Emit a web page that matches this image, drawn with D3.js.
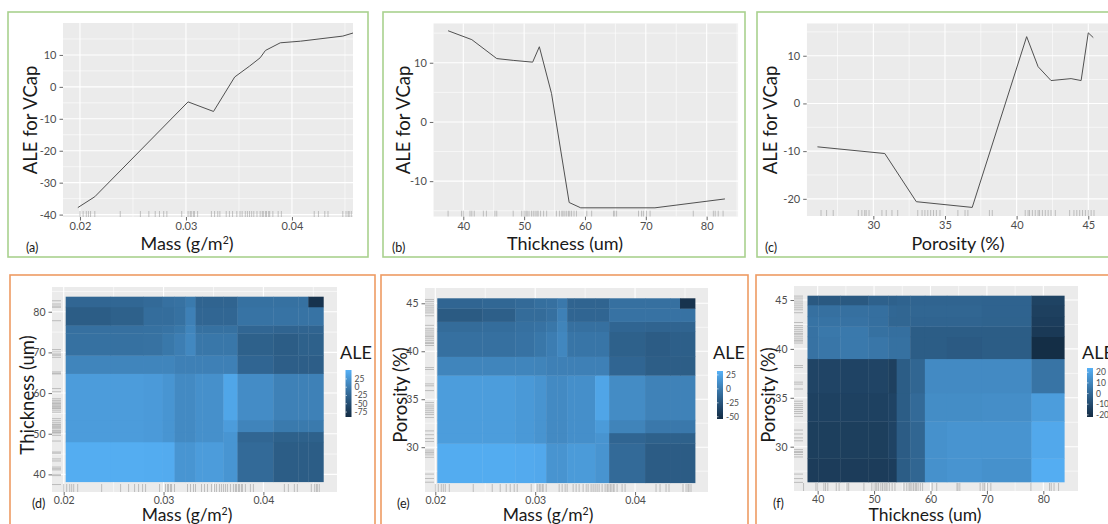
<!DOCTYPE html>
<html>
<head>
<meta charset="utf-8">
<script src="https://cdn.jsdelivr.net/npm/d3@7"></script>
<style>
  body { margin: 0; background: #fff; }
  svg { display: block; }
</style>
</head>
<body>
<svg id="chart" width="1108" height="524"></svg>
<script>
// ---------- 1D ALE curves (top row) ----------
const massA = [0.0198, 0.0214, 0.0302, 0.0326, 0.0346, 0.0360, 0.0370, 0.0375, 0.0389, 0.0408, 0.0448, 0.0458];
const aleA  = [-37.8, -34.4, -4.7, -7.7, 3.1, 6.5, 9.1, 11.4, 13.8, 14.3, 15.9, 16.9];

const thickB = [37.5, 41.4, 45.5, 48.2, 51.4, 52.5, 54.5, 57.4, 59.3, 71.5, 83.0];
const aleB   = [15.4, 13.9, 10.7, 10.4, 10.1, 12.7, 4.8, -13.6, -14.5, -14.5, -13.0];

const poroC = [26.1, 30.8, 33.0, 36.9, 40.7, 41.5, 42.4, 43.8, 44.5, 45.0, 45.35];
const aleC  = [-9.1, -10.5, -20.6, -21.8, 14.0, 7.7, 4.8, 5.2, 4.8, 14.8, 13.8];

// observations drawn as rugs
const massObs = [0.0200, 0.0203, 0.0206, 0.0208, 0.0210, 0.0214, 0.0238, 0.0257, 0.0265, 0.0271, 0.0275,
  0.0279, 0.0282, 0.0296, 0.0302, 0.0304, 0.0305, 0.0307, 0.0308, 0.0311, 0.0324, 0.0327, 0.0330, 0.0332,
  0.0338, 0.0341, 0.0344, 0.0348, 0.0351, 0.0353, 0.0356, 0.0358, 0.0360, 0.0362, 0.0364, 0.0367, 0.0370,
  0.0372, 0.0373, 0.0375, 0.0376, 0.0378, 0.0379, 0.0382, 0.0387, 0.0390, 0.0421, 0.0425, 0.0431, 0.0434,
  0.0448, 0.0451, 0.0453, 0.0454, 0.0456];
const thickObs = [37.5, 39.7, 40.0, 41.1, 41.4, 41.8, 43.3, 43.8, 45.2, 45.5, 48.2, 49.6, 50.0, 50.3, 50.5,
  50.8, 51.2, 51.5, 51.8, 52.1, 52.3, 52.7, 53.2, 53.7, 55.3, 55.8, 56.2, 56.4, 56.7, 57.0, 57.3, 57.5, 57.8,
  58.2, 58.6, 60.3, 61.1, 64.7, 64.9, 65.2, 68.8, 69.3, 69.6, 70.1, 70.7, 77.8, 81.1, 81.4, 81.9, 82.7];
const poroObs = [26.35, 26.74, 27.2, 28.95, 29.2, 29.4, 29.5, 29.7, 30.6, 30.9, 31.3, 31.7, 33.1, 33.4, 33.6,
  33.8, 34.0, 34.2, 34.4, 34.65, 35.9, 36.4, 36.6, 38.1, 38.3, 40.6, 40.8, 40.9, 41.1, 41.3, 41.5, 41.6,
  41.8, 42.0, 42.2, 42.4, 42.7, 43.7, 44.0, 44.2, 44.4, 44.6, 44.8, 45.0, 45.2, 45.4];

// ---------- 2D ALE grids (bottom row), rows listed from the lowest bin upward ----------
const massBreaks = [0.0202, 0.0247, 0.0280, 0.0299, 0.0311, 0.0322, 0.0332, 0.0339, 0.0360, 0.0374, 0.0410, 0.0435, 0.0445, 0.0460];

const thickBreaksD = [38.2, 48.0, 50.5, 53.4, 64.8, 69.3, 74.7, 76.7, 81.2, 83.7];
const aleD = [
  [48, 48, 47, 46, 25, 25, 32, 32, 25, -19, -33, -33, -33],
  [32, 32, 30, 25, 14, 14, 20, 20, 25, -23, -29, -29, -29],
  [32, 32, 30, 25, 14, 14, 20, 20, 32, 8, -3, -3, -3],
  [32, 32, 30, 25, 14, 14, 20, 20, 41, 16, 5, 5, 5],
  [9, 9, 9, 9, 4, 4, 4, 4, 4, -24, -32, -32, -32],
  [-12, -12, -11, -5, 2, 12, -6, -6, -6, -29, -33, -29, -29],
  [-13, -13, -12, -10, -5, 9, -12, -12, -12, -23, -25, -25, -25],
  [-33, -29, -16, -16, -12, 4, -23, -23, -23, -10, -10, -10, -10],
  [-23, -22, -19, -13, -11, -3, -25, -25, -25, -12, -12, -12, -80]
];
const aleDRange = [-90, 52];
const aleDLabels = [25, 0, -25, -50, -75];

const poroBreaksE = [26.3, 30.4, 31.5, 32.85, 37.5, 39.45, 42.05, 43.1, 44.48, 45.52];
const aleE = [
  [29, 29, 28, 27, 15, 15, 19, 19, 15, -11, -20, -20, -20],
  [20, 20, 18, 15, 9, 9, 12, 12, 15, -14, -17, -17, -17],
  [20, 20, 18, 15, 9, 9, 12, 12, 19, 5, -2, -2, -2],
  [20, 20, 18, 15, 9, 9, 12, 12, 25, 10, 4, 4, 4],
  [6, 6, 6, 5, 3, 3, 3, 3, 3, -14, -19, -19, -19],
  [-7, -7, -6, -3, 1, 7, -4, -4, -4, -17, -20, -18, -18],
  [-10, -9, -7, -6, -3, 5, -7, -7, -7, -14, -15, -15, -15],
  [-21, -18, -10, -10, -7, 3, -14, -14, -14, -6, -6, -6, -6],
  [-14, -13, -11, -8, -7, -2, -15, -15, -15, -7, -7, -7, -48]
];
const aleERange = [-54, 32];
const aleELabels = [25, 0, -25, -50];

const thickBreaksF = [38.2, 40.1, 44.0, 49.0, 52.5, 54.0, 56.4, 59.0, 62.9, 69.1, 77.9, 83.7];
const poroBreaksF = [26.4, 28.8, 32.6, 35.5, 39.0, 41.25, 42.3, 43.3, 44.5, 45.44];
const aleF = [
  [-15.3, -15.3, -15.3, -15.3, -15, -3.6, -0.4, 13.9, 14.8, 13.9, 22.9],
  [-14.5, -14.5, -14.5, -14.5, -12.8, -4, -0.4, 13.9, 14.8, 14.8, 21.2],
  [-13.6, -13.6, -13.6, -13.6, -12.8, -3.6, 1, 12.5, 12.5, 13, 17.6],
  [-12.3, -12.3, -12.8, -12.3, -14, -3.6, -0.4, 11.6, 11.6, 11.6, 4.2],
  [3.8, 5.1, 6, 5.1, 3.3, 3.3, -3.6, -3.6, -4.5, -3.6, -21],
  [3.8, 5.6, 6, 3.3, 2.8, 2.8, -3.6, -3.6, -3.6, -3.6, -16.5],
  [4, 4, 3.8, 2.8, -0.4, -0.4, -1, -1, -1, -1.5, -15],
  [3, 3, 3, 2.8, 0, -0.4, -0.4, -0.4, -0.4, -1.3, -14],
  [-5, -5, -5, -2, -2, -1.3, -1, -1, -1, -1.3, -13]
];
const aleFRange = [-22, 24];
const aleFLabels = [20, 10, 0, -10, -20];

// tick values
const massTicks = [0.02, 0.03, 0.04], massMinor = [0.025, 0.035, 0.045];
const thickTicks = [40, 50, 60, 70, 80], thickMinor = [35, 45, 55, 65, 75, 85];
const poroTicks = [30, 35, 40, 45], poroMinor = [27.5, 32.5, 37.5, 42.5];

// ---------- drawing ----------
const svg = d3.select("#chart");
const titleFont = "Lato, 'Open Sans', sans-serif";
const tickFont = "'Liberation Sans Narrow', Lato, sans-serif";
const green = "#A9D18E", orange = "#EE9B63";
const fmt2 = d3.format(".2f");
let clipId = 0;

function frame(x0, y0, x1, y1, color) {
  svg.append("rect")
    .attr("x", x0).attr("y", y0).attr("width", x1 - x0).attr("height", y1 - y0)
    .attr("fill", "none").attr("stroke", color).attr("stroke-width", 1.6);
}

// grey ggplot panel with white major and minor grid lines
function panel(box, x, y, xMajor, xMinor, yMajor, yMinor) {
  const [x0, y0, x1, y1] = box;
  const id = "clip" + (clipId++);
  svg.append("clipPath").attr("id", id)
    .append("rect").attr("x", x0).attr("y", y0).attr("width", x1 - x0).attr("height", y1 - y0);
  const g = svg.append("g").attr("clip-path", `url(#${id})`);
  g.append("rect").attr("x", x0).attr("y", y0).attr("width", x1 - x0).attr("height", y1 - y0).attr("fill", "#EBEBEB");
  const grid = (vals, vertical, w) => g.append("g").selectAll("line").data(vals).join("line")
    .attr("x1", d => vertical ? x(d) : x0).attr("x2", d => vertical ? x(d) : x1)
    .attr("y1", d => vertical ? y0 : y(d)).attr("y2", d => vertical ? y1 : y(d))
    .attr("stroke", "#fff").attr("stroke-width", w);
  grid(xMinor, true, 0.6); grid(yMinor, false, 0.6);
  grid(xMajor, true, 1.1); grid(yMajor, false, 1.1);
  return g;
}

function axes(box, x, y, xTicks, yTicks, xFmt, size, xPad) {
  const [x0, y0, x1, y1] = box;
  const ax = svg.append("g").attr("transform", `translate(0,${y1})`)
    .call(d3.axisBottom(x).tickValues(xTicks).tickSize(3.5).tickPadding(xPad).tickFormat(xFmt));
  const ay = svg.append("g").attr("transform", `translate(${x0},0)`)
    .call(d3.axisLeft(y).tickValues(yTicks).tickSize(3.5).tickPadding(3).tickFormat(d => String(d)));
  [ax, ay].forEach(a => {
    a.select(".domain").remove();
    a.selectAll("line").attr("stroke", "#444").attr("stroke-width", 0.8);
    a.selectAll("text").attr("fill", "#4D4D4D").style("font-family", tickFont).style("font-size", size + "px");
  });
}

function rugBottom(g, box, x, vals, len) {
  g.append("g").selectAll("line").data(vals).join("line")
    .attr("x1", d => x(d)).attr("x2", d => x(d))
    .attr("y1", box[3]).attr("y2", box[3] - len)
    .attr("stroke", "#8a8a8a").attr("stroke-opacity", 0.6).attr("stroke-width", 0.8);
}
function rugLeft(g, box, y, vals, len) {
  g.append("g").selectAll("line").data(vals).join("line")
    .attr("y1", d => y(d)).attr("y2", d => y(d))
    .attr("x1", box[0]).attr("x2", box[0] + len)
    .attr("stroke", "#8a8a8a").attr("stroke-opacity", 0.6).attr("stroke-width", 0.8);
}

function xTitle(cx, yBase, parts, size) {
  const t = svg.append("text").attr("x", cx).attr("y", yBase).attr("text-anchor", "middle")
    .style("font-family", titleFont).style("font-size", size + "px").attr("fill", "#1a1a1a");
  parts.forEach(p => {
    const s = t.append("tspan").text(p.t);
    if (p.sup) s.attr("dy", -6).style("font-size", "10.5px");
    if (p.after) s.attr("dy", 6);
  });
}
function yTitle(cx, cy, label) {
  svg.append("text").attr("transform", `translate(${cx},${cy}) rotate(-90)`)
    .attr("text-anchor", "middle").attr("dominant-baseline", "central")
    .style("font-family", titleFont).style("font-size", "18.5px").attr("fill", "#1a1a1a").text(label);
}
function tag(x, yBase, label) {
  svg.append("text").attr("x", x).attr("y", yBase)
    .style("font-family", titleFont).style("font-size", "12.5px").attr("fill", "#1a1a1a").text(label);
}
const massLabel = [{ t: "Mass (g/m" }, { t: "2", sup: true }, { t: ")", after: true }];

// ---- top row: line charts ----
function linePanel(o) {
  frame(...o.frame, green);
  const x = d3.scaleLinear().domain(o.xDom).range([o.box[0], o.box[2]]);
  const y = d3.scaleLinear().domain(o.yDom).range([o.box[3], o.box[1]]);
  const g = panel(o.box, x, y, o.xTicks, o.xMinor, o.yTicks, o.yMinor);
  rugBottom(g, o.box, x, o.obs, 6);
  g.append("path").datum(d3.zip(o.xs, o.ys))
    .attr("d", d3.line().x(d => x(d[0])).y(d => y(d[1])))
    .attr("fill", "none").attr("stroke", "#505050").attr("stroke-width", 1);
  axes(o.box, x, y, o.xTicks, o.yTicks, o.xFmt, 11, 2);
  yTitle(o.yTitleX, 120, "ALE for VCap");
  xTitle(o.xTitleX, 250, o.xLabel, 18);
  tag(o.tagX, 252, o.tag);
}

linePanel({ frame: [8, 12, 368, 257], box: [63, 23, 353, 217], xDom: [0.0184, 0.04576], yDom: [-40.75, 20.0],
  xTicks: massTicks, xMinor: massMinor, yTicks: [-40, -30, -20, -10, 0, 10], yMinor: [-35, -25, -15, -5, 5, 15],
  xs: massA, ys: aleA, obs: massObs, xFmt: fmt2, yTitleX: 30, xTitleX: 187, xLabel: massLabel, tagX: 26, tag: "(a)" });

linePanel({ frame: [383, 12, 745, 257], box: [433.3, 23.3, 738.3, 216.7], xDom: [35.07, 85.2], yDom: [-16.0, 16.66],
  xTicks: thickTicks, xMinor: thickMinor, yTicks: [-10, 0, 10], yMinor: [-15, -5, 5, 15],
  xs: thickB, ys: aleB, obs: thickObs, xFmt: d => String(d), yTitleX: 403, xTitleX: 565,
  xLabel: [{ t: "Thickness (um)" }], tagX: 392, tag: "(b)" });

linePanel({ frame: [757, 12, 1120, 257], box: [806.7, 23.3, 1111.2, 216], xDom: [25.35, 46.6], yDom: [-23.6, 16.8],
  xTicks: poroTicks, xMinor: poroMinor, yTicks: [-20, -10, 0, 10], yMinor: [-15, -5, 5, 15],
  xs: poroC, ys: aleC, obs: poroObs, xFmt: d => String(d), yTitleX: 770, xTitleX: 958,
  xLabel: [{ t: "Porosity (%)" }], tagX: 765, tag: "(c)" });

// ---- bottom row: heat maps ----
function heatPanel(o) {
  frame(...o.frame, orange);
  const xb = o.xBreaks, yb = o.yBreaks;
  const x = d3.scaleLinear().domain([xb[0], xb[xb.length - 1]]).range(o.heatX);
  const y = d3.scaleLinear().domain([yb[0], yb[yb.length - 1]]).range(o.heatY);
  const color = d3.scaleLinear().domain(o.range).range(["#132B43", "#56B1F7"]).interpolate(d3.interpolateLab);
  const g = panel(o.box, x, y, o.xTicks, o.xMinor, o.yTicks, o.yMinor);
  const cells = [];
  o.values.forEach((row, i) => row.forEach((v, j) => cells.push({ i, j, v })));
  g.append("g").selectAll("rect").data(cells).join("rect")
    .attr("x", d => x(xb[d.j])).attr("width", d => x(xb[d.j + 1]) - x(xb[d.j]) + 0.4)
    .attr("y", d => y(yb[d.i + 1])).attr("height", d => y(yb[d.i]) - y(yb[d.i + 1]) + 0.4)
    .attr("fill", d => color(d.v));
  rugBottom(g, o.box, x, o.xObs, 8);
  rugLeft(g, o.box, y, o.yObs, 9);
  axes(o.box, x, y, o.xTicks, o.yTicks, o.xFmt, 10.5, 1);
  yTitle(o.yTitleX, 395, o.yLabel);
  xTitle(o.xTitleX, 521, o.xLabel, 17.5);
  tag(o.tagX, 508, o.tag);

  // colour bar legend
  const [bx0, by0, bx1, by1] = o.bar;
  const gid = "grad" + (clipId++);
  const grad = svg.append("defs").append("linearGradient").attr("id", gid)
    .attr("x1", 0).attr("x2", 0).attr("y1", 1).attr("y2", 0);
  d3.range(0, 1.0001, 0.1).forEach(t => grad.append("stop").attr("offset", t)
    .attr("stop-color", color(o.range[0] + t * (o.range[1] - o.range[0]))));
  svg.append("rect").attr("x", bx0).attr("y", by0).attr("width", bx1 - bx0).attr("height", by1 - by0)
    .attr("fill", `url(#${gid})`);
  const ly = d3.scaleLinear().domain(o.range).range([by1, by0]);
  const lg = svg.append("g");
  lg.selectAll("line").data(o.labels).join("line")
    .attr("x1", bx0).attr("x2", bx0 + 1.5).attr("y1", d => ly(d)).attr("y2", d => ly(d))
    .attr("stroke", "#fff").attr("stroke-width", 0.6);
  lg.selectAll("text").data(o.labels).join("text")
    .attr("x", bx1 + 3).attr("y", d => ly(d)).attr("dominant-baseline", "central")
    .style("font-family", tickFont).style("font-size", "8.5px").attr("fill", "#4D4D4D").text(d => String(d));
  svg.append("text").attr("x", o.legendX).attr("y", 359)
    .style("font-family", titleFont).style("font-size", "18px").attr("fill", "#1a1a1a").text("ALE");
}

heatPanel({ frame: [10, 275, 375, 540], box: [52, 287, 337, 492], heatX: [65.7, 323.3], heatY: [481.7, 296.7],
  xBreaks: massBreaks, yBreaks: thickBreaksD, values: aleD, range: aleDRange, labels: aleDLabels,
  xTicks: massTicks, xMinor: massMinor, yTicks: [40, 50, 60, 70, 80], yMinor: [35, 45, 55, 65, 75, 85],
  xObs: massObs, yObs: thickObs, xFmt: fmt2, yTitleX: 27, yLabel: "Thickness (um)",
  xTitleX: 187, xLabel: massLabel, tagX: 32, tag: "(d)", bar: [345.5, 370, 351.5, 417], legendX: 340 });

heatPanel({ frame: [381, 275, 748, 540], box: [425, 288, 708, 492], heatX: [437.3, 695], heatY: [482.7, 298.3],
  xBreaks: massBreaks, yBreaks: poroBreaksE, values: aleE, range: aleERange, labels: aleELabels,
  xTicks: massTicks, xMinor: massMinor, yTicks: poroTicks, yMinor: poroMinor,
  xObs: massObs, yObs: poroObs, xFmt: fmt2, yTitleX: 400, yLabel: "Porosity (%)",
  xTitleX: 548, xLabel: massLabel, tagX: 397, tag: "(e)", bar: [717, 371, 723, 419], legendX: 713 });

heatPanel({ frame: [756, 275, 1120, 540], box: [794, 286, 1078, 491], heatX: [807.5, 1064.2], heatY: [481.9, 295.7],
  xBreaks: thickBreaksF, yBreaks: poroBreaksF, values: aleF, range: aleFRange, labels: aleFLabels,
  xTicks: thickTicks, xMinor: [45, 55, 65, 75], yTicks: poroTicks, yMinor: poroMinor,
  xObs: thickObs, yObs: poroObs, xFmt: d => String(d), yTitleX: 768, yLabel: "Porosity (%)",
  xTitleX: 925, xLabel: [{ t: "Thickness (um)" }], tagX: 773, tag: "(f)", bar: [1087, 368, 1093, 417], legendX: 1082 });
</script>
</body>
</html>
